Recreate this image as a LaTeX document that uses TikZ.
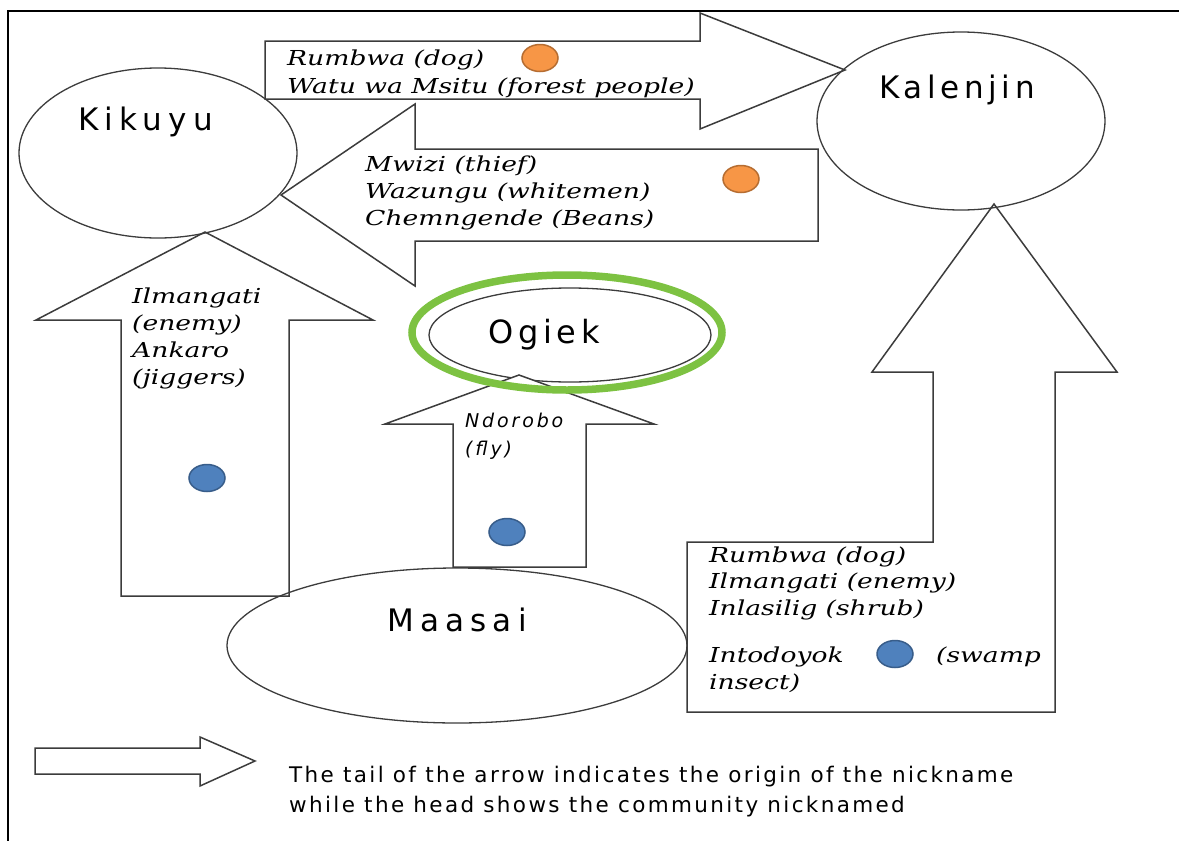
\documentclass[tikz,border=0pt]{standalone}
\usepackage{fontspec}
\setmainfont{DejaVu Sans}
\usetikzlibrary{shapes.geometric}
\newfontfamily\namefont[LetterSpace=15]{DejaVu Sans}
\newfontfamily\widenamefont[LetterSpace=20]{DejaVu Sans}
\newfontfamily\nickfont[FakeStretch=1.29]{DejaVu Serif}
\newfontfamily\flyfont[LetterSpace=15]{DejaVu Sans}
\newfontfamily\keyfont[LetterSpace=11]{DejaVu Sans}

\definecolor{arrowgray}{RGB}{60,60,60}
\definecolor{dotorange}{RGB}{247,150,70}
\definecolor{dotorangeedge}{RGB}{182,109,49}
\definecolor{dotblue}{RGB}{79,129,189}
\definecolor{dotblueedge}{RGB}{56,93,138}
\definecolor{ringgreen}{RGB}{125,194,66}

\tikzset{
  frameline/.style={line width=1.8pt, draw=black},
  blockarrow/.style={draw=arrowgray, line width=1.5pt, fill=white, line join=miter},
  community/.style={ellipse, draw=arrowgray, line width=1.3pt, inner sep=0pt},
  cname/.style={anchor=base west, inner sep=0pt, font=\namefont\fontsize{31}{36}\selectfont},
  widecname/.style={cname, font=\widenamefont\fontsize{31}{36}\selectfont},
  nick/.style={anchor=base west, inner sep=0pt, font=\nickfont\itshape\fontsize{20.6}{27}\selectfont},
  flylabel/.style={anchor=base west, inner sep=0pt, font=\flyfont\itshape\fontsize{19}{24}\selectfont},
  keytext/.style={anchor=base west, inner sep=0pt, font=\keyfont\fontsize{21.5}{30}\selectfont},
  odot/.style={ellipse, fill=dotorange, draw=dotorangeedge, line width=1.5pt,
    minimum width=36pt, minimum height=27pt, inner sep=0pt},
  bdot/.style={ellipse, fill=dotblue, draw=dotblueedge, line width=1.5pt,
    minimum width=36pt, minimum height=27pt, inner sep=0pt},
}

\begin{document}
\begin{tikzpicture}[x=1pt, y=-1pt]
\useasboundingbox (0,0) rectangle (1179,841);

% outer frame (left and top edges)
\draw[frameline] (8,841) -- (8,11) -- (1179,11);

% Ogiek: inner outline sits below the arrow that points at it
\node[community, minimum width=282pt, minimum height=94pt] (ogiek) at (570,335) {};

% block arrows: tail = origin of the nickname, head = community nicknamed
\draw[blockarrow] (265,41) -- (700,41) -- (700,13) -- (845,70) -- (700,129) -- (700,99) -- (265,99) -- cycle;
\draw[blockarrow] (818,149) -- (415,149) -- (415,104) -- (281,195) -- (415,286) -- (415,241) -- (818,241) -- cycle;
\draw[blockarrow] (121,596) -- (121,320) -- (36,320) -- (205,232) -- (373,320) -- (289,320) -- (289,596) -- cycle;
\draw[blockarrow] (453,567) -- (453,424) -- (385,424) -- (519,375) -- (654,424) -- (586,424) -- (586,567) -- cycle;
\draw[blockarrow] (687,542) -- (933,542) -- (933,372) -- (872,372) -- (994,204) -- (1117,372) -- (1055,372) -- (1055,712) -- (687,712) -- cycle;

% legend arrow
\draw[blockarrow] (35,748) -- (200,748) -- (200,737) -- (255,761) -- (200,786) -- (200,774) -- (35,774) -- cycle;

% communities
\node[community, minimum width=278pt, minimum height=170pt] (kikuyu) at (158,153) {};
\node[community, minimum width=288pt, minimum height=178pt] (kalenjin) at (961,121) {};
\node[community, minimum width=460pt, minimum height=155pt] (maasai) at (457,645.5) {};
\node[ellipse, draw=ringgreen, line width=7.5pt, minimum width=310pt, minimum height=115pt, inner sep=0pt] (ogiekring) at (567,332.5) {};

\node[widecname] (kikuyuname) at (78,130) {Kikuyu};
\node[cname] (kalenjinname) at (879,98) {Kalenjin};
\node[widecname] (maasainame) at (387,631) {Maasai};
\node[cname, font=\namefont\fontsize{32}{36}\selectfont] (ogiekname) at (488,343) {Ogiek};

% Kikuyu -> Kalenjin
\node[nick] (kk1) at (287,65) {Rumbwa (dog)};
\node[nick] (kk2) at (287,93) {Watu wa Msitu (forest people)};
\node[odot] (kkdot) at (540,58) {};

% Kalenjin -> Kikuyu
\node[nick] (lk1) at (365,171) {Mwizi (thief)};
\node[nick] (lk2) at (365,198) {Wazungu (whitemen)};
\node[nick] (lk3) at (365,225) {Chemngende (Beans)};
\node[odot] (lkdot) at (741,179) {};

% Maasai -> Kikuyu
\node[nick] (mk1) at (132,303) {Ilmangati};
\node[nick] (mk2) at (132,330) {(enemy)};
\node[nick] (mk3) at (132,357) {Ankaro};
\node[nick] (mk4) at (132,384) {(jiggers)};
\node[bdot] (mkdot) at (207,478) {};

% Maasai -> Ogiek
\node[flylabel] (mo1) at (465,427) {Ndorobo};
\node[flylabel] (mo2) at (465,455) {(fly)};
\node[bdot] (modot) at (507,532) {};

% Maasai -> Kalenjin
\node[nick] (ml1) at (709,562) {Rumbwa (dog)};
\node[nick] (ml2) at (709,588) {Ilmangati (enemy)};
\node[nick] (ml3) at (709,615) {Inlasilig (shrub)};
\node[nick] (ml4) at (709,662) {Intodoyok};
\node[nick] (ml5) at (936,662) {(swamp};
\node[nick] (ml6) at (709,689) {insect)};
\node[bdot] (mldot) at (895,654) {};

% legend
\node[keytext] (key1) at (289,782) {The tail of the arrow indicates the origin of the nickname};
\node[keytext] (key2) at (289,812) {while the head shows the community nicknamed};
\end{tikzpicture}
\end{document}
